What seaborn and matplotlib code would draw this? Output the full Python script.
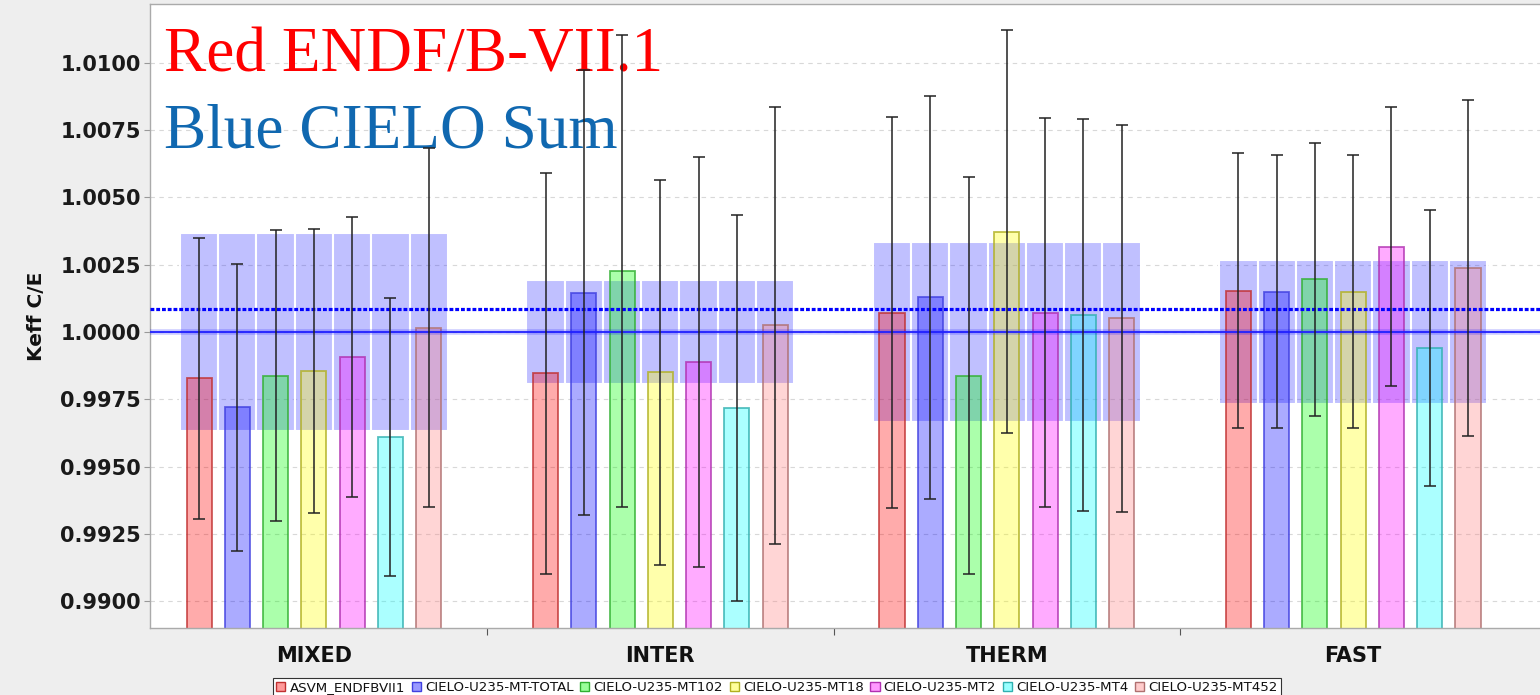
import numpy as np
import pandas as pd
import matplotlib
matplotlib.use('Agg')
import matplotlib.pyplot as plt
from matplotlib.patches import Patch
import seaborn as sns

sns.set_theme(style='white')

# categories and series
groups = ['MIXED', 'INTER', 'THERM', 'FAST']
series = ['ASVM_ENDFBVII1', 'CIELO-U235-MT-TOTAL', 'CIELO-U235-MT102', 'CIELO-U235-MT18',
          'CIELO-U235-MT2', 'CIELO-U235-MT4', 'CIELO-U235-MT452']

# keff C/E per series (one value per group)
asvm = [0.99828, 0.99846, 1.00072, 1.00154]
mt_total = [0.99720, 1.00146, 1.00129, 1.00150]
mt102 = [0.99838, 1.00227, 0.99838, 1.00196]
mt18 = [0.99854, 0.99850, 1.00372, 1.00150]
mt2 = [0.99907, 0.99888, 1.00072, 1.00317]
mt4 = [0.99610, 0.99717, 1.00064, 0.99939]
mt452 = [1.00016, 1.00025, 1.00051, 1.00239]

# uncertainties
asvm_err = [0.00522, 0.00745, 0.00726, 0.00510]
mt_total_err = [0.00533, 0.00826, 0.00749, 0.00506]
mt102_err = [0.00541, 0.00878, 0.00737, 0.00508]
mt18_err = [0.00527, 0.00715, 0.00749, 0.00506]
mt2_err = [0.00520, 0.00762, 0.00723, 0.00518]
mt4_err = [0.00515, 0.00718, 0.00728, 0.00513]
mt452_err = [0.00666, 0.00812, 0.00719, 0.00625]

# half width of the shaded band around 1.0, per group
band_half = [0.00367, 0.00193, 0.00335, 0.00267]
dotted_level = 1.00086

vals = [asvm, mt_total, mt102, mt18, mt2, mt4, mt452]
errs = [asvm_err, mt_total_err, mt102_err, mt18_err, mt2_err, mt4_err, mt452_err]

df = pd.DataFrame([(g, s, vals[j][i], errs[j][i])
                   for j, s in enumerate(series) for i, g in enumerate(groups)],
                  columns=['group', 'series', 'keff', 'err'])

base = ['#FF0000', '#0000FF', '#00FF00', '#FFFF00', '#FF00FF', '#00FFFF', '#FF8080']
edges = ['#C03030', '#4040E0', '#30B030', '#B0B020', '#B030B0', '#30B0B0', '#B07070']

fig = plt.figure(figsize=(15.4, 6.95), dpi=100, facecolor='#EEEEEE')
ax = fig.add_axes([150/1540, 67/695, 1 - 150/1540 + 0.002, 624/695])
ax.set_facecolor('white')

ntot = 0.773
sns.barplot(data=df, x='group', y='keff', hue='series', order=groups, hue_order=series,
            palette=base, width=ntot, gap=0.345, errorbar=None, legend=False,
            ax=ax, zorder=2)

slot = ntot / len(series)
bar_containers = list(ax.containers)
for j, cont in enumerate(bar_containers):
    xs = []
    for bar in cont:
        bar.set_facecolor(matplotlib.colors.to_rgba(base[j], 0.33))
        bar.set_edgecolor(matplotlib.colors.to_rgba(edges[j], 0.8))
        bar.set_linewidth(1.3)
        xs.append(bar.get_x() + bar.get_width() / 2)
    xs = np.array(xs)
    # shaded band behind each bar
    ax.bar(xs, [2 * h for h in band_half], bottom=[1 - h for h in band_half], width=slot,
           color=(0.25, 0.25, 1.0, 0.33), edgecolor='white', linewidth=1.5, zorder=1)
    ax.errorbar(xs, vals[j], yerr=errs[j], fmt='none', ecolor='#222222', elinewidth=1.1,
                capsize=4.3, capthick=1.1, zorder=5)

ax.axhline(1.0, color='#0000FF', lw=4, alpha=0.2, zorder=3)
ax.axhline(1.0, color='#2020FF', lw=1.3, zorder=3)
ax.axhline(dotted_level, color='#0000FF', lw=2.3, linestyle=(0, (1.2, 0.6)), zorder=3)

ax.set_xlim(-0.473, 3.548)
ax.set_ylim(0.98900, 1.01219)
yt = np.arange(0.99, 1.0101, 0.0025)
ax.set_yticks(yt)
ax.set_yticklabels(['%.4f' % v for v in yt], fontweight='bold', fontsize=15, color='#1A1A1A')
ax.yaxis.grid(True, linestyle=(0, (4, 4)), color='#D8D8D8', lw=0.8)
ax.set_axisbelow(True)
ax.tick_params(axis='y', which='major', length=4.5, width=0.8, color='#999999', pad=2, left=True)
ax.set_xticks(range(len(groups)))
ax.set_xticklabels(groups, fontweight='bold', fontsize=15, color='#111111')
ax.set_xticks([0.5, 1.5, 2.5], minor=True)
ax.tick_params(axis='x', which='major', length=0, pad=13)
ax.tick_params(axis='x', which='minor', length=5, width=0.8, color='#555555', bottom=True)
ax.set_xlabel('')
ax.set_ylabel('Keff C/E', fontweight='bold', fontsize=14.5, color='#111111', labelpad=10)
for side in ['left', 'bottom', 'top']:
    ax.spines[side].set_color('#AAAAAA')
    ax.spines[side].set_linewidth(1.0)
ax.spines['right'].set_visible(False)

ax.text(14/1392, 1 - 68/624, 'Red ENDF/B-VII.1', transform=ax.transAxes,
        family='Liberation Serif', fontsize=45.5, color='#FF0000', va='baseline', ha='left')
ax.text(14/1392, 1 - 144/624, 'Blue CIELO Sum', transform=ax.transAxes,
        family='Liberation Serif', fontsize=45.5, color='#1068B0', va='baseline', ha='left')

handles = [Patch(facecolor=matplotlib.colors.to_rgba(base[j], 0.4),
                 edgecolor=edges[j], linewidth=1.0) for j in range(len(series))]
leg = fig.legend(handles, series, loc='lower center', bbox_to_anchor=(777/1540, -0.004),
                 ncol=7, frameon=True, fancybox=False, framealpha=1, facecolor='white',
                 edgecolor='#333333', fontsize=9.6, handlelength=0.7, handleheight=0.7,
                 handletextpad=0.3, columnspacing=0.5, borderpad=0.25, borderaxespad=0)
for t in leg.get_texts():
    t.set_color('#111111')
leg.get_frame().set_linewidth(0.8)

fig.savefig('out.png', dpi=100, facecolor=fig.get_facecolor())
